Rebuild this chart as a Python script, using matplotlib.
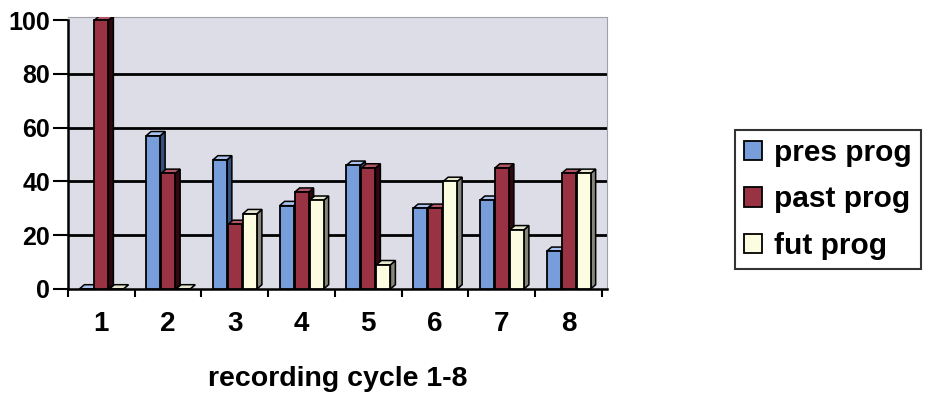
import matplotlib.pyplot as plt
from matplotlib.patches import Polygon
import numpy as np

plt.rcParams['font.family'] = ['Liberation Sans', 'DejaVu Sans']
plt.rcParams['font.weight'] = 'bold'

cycles = ['1', '2', '3', '4', '5', '6', '7', '8']
pres_prog = [0, 57, 48, 31, 46, 30, 33, 14]
past_prog = [100, 43, 24, 36, 45, 30, 45, 43]
fut_prog = [0, 0, 28, 33, 9, 40, 22, 43]

series = [('pres prog', pres_prog, '#789ddb', '#34507e', '#a9c2ee'),
          ('past prog', past_prog, '#993344', '#30080f', '#b25566'),
          ('fut prog', fut_prog, '#fcfce0', '#85857a', '#e8e8d0')]

fig = plt.figure(figsize=(9.3, 3.95), dpi=100)
ax = fig.add_axes([68 / 930, 106 / 395, 539 / 930, 272 / 395])
ax.set_facecolor('#dcdde7')

x = np.arange(1, len(cycles) + 1)
w = 0.21
step = 0.225
dx, dy = 0.075, 1.6

for i, (name, vals, col, side, top) in enumerate(series):
    xs = x + (i - 1) * step
    ax.bar(xs, vals, width=w, color=col, edgecolor='black', linewidth=1.3,
           zorder=3, label=name)
    for xc, v in zip(xs, vals):
        l, r = xc - w / 2, xc + w / 2
        ax.add_patch(Polygon([(r, 0), (r + dx, dy), (r + dx, v + dy), (r, v)],
                             closed=True, facecolor=side, edgecolor='black',
                             linewidth=1.1, zorder=2.9))
        ax.add_patch(Polygon([(l, v), (l + dx, v + dy), (r + dx, v + dy), (r, v)],
                             closed=True, facecolor=top, edgecolor='black',
                             linewidth=1.1, zorder=2.9))

ax.set_xlim(0.5, 8.5 + dx)
ax.set_ylim(0, 101.2)
ax.set_yticks([0, 20, 40, 60, 80, 100])
ax.set_yticklabels(['0', '20', '40', '60', '80', '100'], fontsize=18, fontweight='bold')
ax.set_xticks(x)
ax.set_xticklabels(cycles, fontsize=20, fontweight='bold')
ax.set_xticks(np.arange(0.5, 9.0, 1.0), minor=True)
ax.tick_params(axis='x', which='major', length=0, pad=16)
ax.tick_params(axis='x', which='minor', length=6, width=1.5)
ax.tick_params(axis='y', length=11, width=1.5, pad=2)

for yv in [20, 40, 60, 80]:
    ax.axhline(yv, xmin=2 / 539, color='black', linewidth=2, zorder=1)

ax.spines['left'].set_bounds(0, 100)
ax.spines['left'].set_linewidth(1.8)
ax.spines['bottom'].set_linewidth(1.8)
ax.spines['top'].set_color('#a0a0a8')
ax.spines['right'].set_color('#a0a0a8')

ax.set_xlabel('recording cycle 1-8', fontsize=20.5, fontweight='bold', labelpad=20.5)

leg = fig.legend(loc='upper left', bbox_to_anchor=(735 / 930, 1 - 130 / 395),
                 fontsize=21.5, frameon=True, fancybox=False, edgecolor='black',
                 handlelength=0.62, handleheight=0.62, handletextpad=0.4,
                 borderpad=0.3, labelspacing=0.62, borderaxespad=0)
leg.get_frame().set_linewidth(1.5)
for t in leg.get_texts():
    t.set_fontweight('bold')

fig.savefig('out.png', dpi=100)
